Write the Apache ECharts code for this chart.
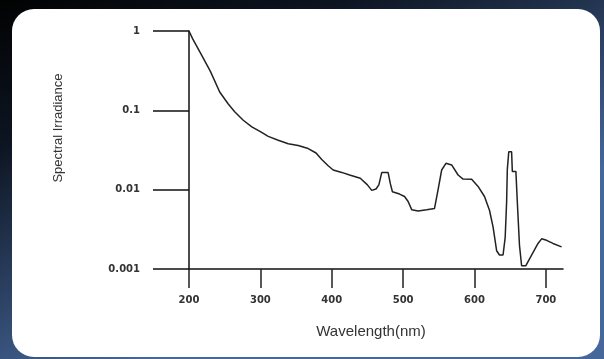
<!DOCTYPE html>
<html>
<head>
<meta charset="utf-8">
<script src="https://cdn.jsdelivr.net/npm/echarts@6/dist/echarts.min.js"></script>
<style>
html,body{margin:0;padding:0;background:#000;}
#chart{width:604px;height:359px;}
</style>
</head>
<body>
<div id="chart"></div>
<script>
// wavelength (nm)
const wavelengths = [200, 205, 215, 230, 243, 255, 264, 276, 288, 300, 311, 325, 339, 353, 367, 378, 386, 395, 402, 414, 425, 440, 450, 456, 462, 466, 470, 479, 482, 485, 495, 502, 507, 512, 521, 533, 544, 549, 554, 560, 568, 577, 584, 596, 605, 614, 621, 626, 631, 635, 640, 643, 645, 646, 648, 652, 653, 658, 660, 663, 666, 672, 680, 689, 694, 701, 710, 722];
// spectral irradiance (relative)
const irradiance = [1.0, 0.8, 0.55, 0.31, 0.17, 0.12, 0.096, 0.075, 0.062, 0.054, 0.047, 0.042, 0.038, 0.036, 0.033, 0.029, 0.024, 0.020, 0.0177, 0.0165, 0.0153, 0.0139, 0.0115, 0.0098, 0.0102, 0.0115, 0.0164, 0.0164, 0.012, 0.0094, 0.0088, 0.0082, 0.0071, 0.0056, 0.0054, 0.0056, 0.0058, 0.010, 0.0177, 0.0215, 0.0205, 0.0153, 0.0136, 0.0135, 0.011, 0.0082, 0.0055, 0.0034, 0.0017, 0.0015, 0.0015, 0.0025, 0.007, 0.018, 0.030, 0.030, 0.017, 0.017, 0.007, 0.002, 0.0011, 0.0011, 0.0015, 0.0021, 0.0024, 0.0023, 0.0021, 0.0019];
const xTickLabels = ['200', '300', '400', '500', '600', '700'];
const yTickValues = [0.001, 0.01, 0.1, 1];
const yTickLabels = ['0.001', '0.01', '0.1', '1'];
const xTitle = 'Wavelength(nm)';
const yTitle = 'Spectral Irradiance';

const seriesData = wavelengths.map((w, i) => [w, irradiance[i]]);

const chart = echarts.init(document.getElementById('chart'), null, {renderer: 'canvas'});
chart.setOption({
  animation: false,
  backgroundColor: {
    type: 'linear', x: 0, y: 0, x2: 0.25, y2: 1,
    colorStops: [
      {offset: 0, color: '#020202'},
      {offset: 0.35, color: '#0d1522'},
      {offset: 1, color: '#46679a'}
    ]
  },
  graphic: [
    {
      type: 'rect', z: -10, silent: true,
      shape: {x: 12, y: 9, width: 588, height: 348, r: 22},
      style: {fill: '#ffffff'}
    },
    {
      type: 'text', z: 10, silent: true,
      x: 58, y: 128, rotation: Math.PI / 2,
      style: {text: yTitle, fill: '#333', font: '13px "Liberation Sans", Arial, sans-serif', align: 'center', verticalAlign: 'middle'}
    },
    {
      type: 'text', z: 10, silent: true,
      x: 371, y: 332,
      style: {text: xTitle, fill: '#333', font: '15px "Liberation Sans", Arial, sans-serif', align: 'center', verticalAlign: 'middle'}
    }
  ],
  grid: {left: 189, top: 31, right: 41, bottom: 90, containLabel: false},
  xAxis: {
    type: 'value', min: 200, max: 724, interval: 100,
    axisLine: {show: true, lineStyle: {color: '#111', width: 1.5}},
    axisTick: {show: true, length: 19, lineStyle: {color: '#222', width: 1.5}},
    axisLabel: {
      margin: 26, color: '#333', fontSize: 10, fontWeight: 'bold',
      fontFamily: '"DejaVu Sans", sans-serif',
      formatter: v => { const i = xTickLabels.indexOf(String(v)); return i >= 0 ? xTickLabels[i] : ''; },
      showMaxLabel: false
    },
    splitLine: {show: false}
  },
  yAxis: {
    type: 'log', logBase: 10, min: 0.001, max: 1,
    axisLine: {show: true, lineStyle: {color: '#111', width: 1.5}},
    axisTick: {show: true, length: 36, lineStyle: {color: '#111', width: 1.5}},
    axisLabel: {
      margin: 49, color: '#333', fontSize: 10, fontWeight: 'bold',
      fontFamily: '"DejaVu Sans", sans-serif',
      formatter: v => {
        for (let i = 0; i < yTickValues.length; i++) {
          if (Math.abs(Math.log10(v) - Math.log10(yTickValues[i])) < 1e-6) return yTickLabels[i];
        }
        return '';
      }
    },
    splitLine: {show: false}
  },
  series: [{
    type: 'line',
    data: seriesData,
    showSymbol: false,
    smooth: false,
    clip: false,
    lineStyle: {color: '#222', width: 1.5}
  }]
});
</script>
</body>
</html>
